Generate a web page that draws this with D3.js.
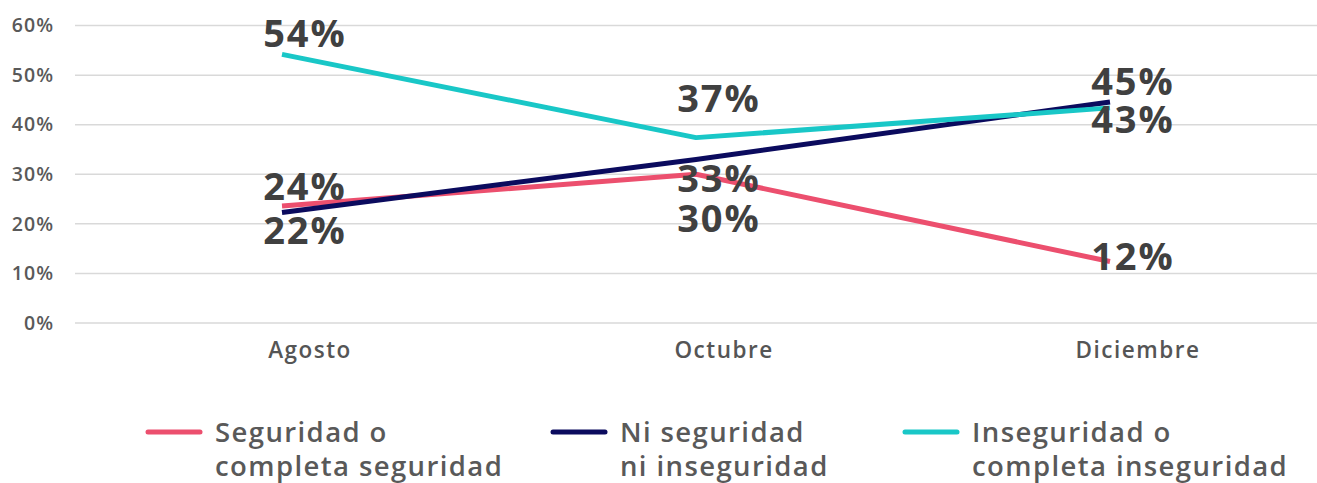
<!DOCTYPE html>
<html>
    <head>
        <script src="https://d3js.org/d3.v7.min.js"></script>
        <style>
            body { margin: 0; background: #fff; }
            text { font-family: 'Open Sans', 'Noto Sans', sans-serif; }
        </style>
    </head>
    <body>
        <svg height='483' width='1317'></svg>

        <script>
            const months = ['Agosto', 'Octubre', 'Diciembre'];
            const yTicks = [0, 10, 20, 30, 40, 50, 60];

            const seguridad = [23.6, 30.0, 12.4];
            const niSeguridad = [22.3, 33.0, 44.6];
            const inseguridad = [54.2, 37.4, 43.4];

            const seriesNames = [
                ['Seguridad o', 'completa seguridad'],
                ['Ni seguridad', 'ni inseguridad'],
                ['Inseguridad o', 'completa inseguridad']
            ];

            const svg = d3.select('svg');
            const width = +svg.attr('width');

            const x = d3.scaleBand()
                .domain(months)
                .range([75, 1317]);

            const y = d3.scaleLinear()
                .domain([0, 60])
                .range([323, 25.6]);

            const colors = ['#ec4f6e', '#0b0b5e', '#19c7c7'];

            // label nudges (dy from point, in px) per series/month
            const labelDy = [
                [-6, 58, 8],
                [32, 33, -7],
                [-7, -26, 25]
            ];

            // grid
            svg.append('g')
                .selectAll('line')
                .data(yTicks)
                .enter().append('line')
                    .attr('x1', 75)
                    .attr('x2', width)
                    .attr('y1', d => y(d))
                    .attr('y2', d => y(d))
                    .attr('stroke', '#d9d9d9')
                    .attr('stroke-width', 1.5);

            const yAxis = d3.axisLeft(y)
                .tickValues(yTicks)
                .tickFormat(d => d + '%')
                .tickSize(0)
                .tickPadding(21);

            const gy = svg.append('g')
                .attr('transform', 'translate(75,0)')
                .call(yAxis);
            gy.select('.domain').remove();
            gy.selectAll('text')
                .attr('font-size', 19.5)
                .attr('font-weight', 600)
                .attr('fill', '#595959')
                .attr('letter-spacing', 1)
                .style('font-family', "'Open Sans', 'Noto Sans', sans-serif");

            const xAxis = d3.axisBottom(x)
                .tickSize(0)
                .tickPadding(19);

            const gx = svg.append('g')
                .attr('transform', 'translate(28,323)')
                .call(xAxis);
            gx.select('.domain').remove();
            gx.selectAll('text')
                .attr('font-size', 22.5)
                .attr('font-weight', 600)
                .attr('fill', '#555')
                .attr('letter-spacing', 1.5)
                .style('font-family', "'Open Sans', 'Noto Sans', sans-serif");

            const cx = m => x(m) + x.bandwidth() / 2;

            const series = [seguridad, niSeguridad, inseguridad];

            const line = d3.line()
                .x((d, i) => cx(months[i]))
                .y(d => y(d));

            svg.append('g')
                .selectAll('path')
                .data(series)
                .enter().append('path')
                    .attr('d', d => line(d))
                    .attr('fill', 'none')
                    .attr('stroke', (d, i) => colors[i])
                    .attr('stroke-width', 5)
                    .attr('stroke-linejoin', 'round');

            // data labels
            const labels = [];
            series.forEach((vals, s) => {
                vals.forEach((v, i) => {
                    labels.push({ s, i, v });
                });
            });

            svg.append('g')
                .selectAll('text')
                .data(labels)
                .enter().append('text')
                    .attr('x', d => cx(months[d.i]) + 23)
                    .attr('y', d => y(d.v) + labelDy[d.s][d.i])
                    .attr('text-anchor', 'middle')
                    .attr('font-size', 38)
                    .attr('font-weight', 700)
                    .attr('fill', '#404040')
                    .attr('letter-spacing', 2)
                    .style('font-family', "'Open Sans', 'Noto Sans', sans-serif")
                    .text(d => Math.round(d.v) + '%');

            // legend
            const legendX = [148, 553, 905];
            const legend = svg.append('g')
                .selectAll('g')
                .data(seriesNames)
                .enter().append('g')
                    .attr('transform', (d, i) => `translate(${legendX[i]},432)`);

            legend.append('line')
                .attr('x1', 0)
                .attr('x2', 52)
                .attr('stroke', (d, i) => colors[i])
                .attr('stroke-width', 5)
                .attr('stroke-linecap', 'round');

            const lt = legend.append('text')
                .attr('x', 67)
                .attr('y', 10)
                .attr('font-size', 27.5)
                .attr('font-weight', 600)
                .attr('fill', '#595959')
                .attr('letter-spacing', 1.4)
                .style('font-family', "'Open Sans', 'Noto Sans', sans-serif");

            lt.selectAll('tspan')
                .data(d => d)
                .enter().append('tspan')
                    .attr('x', 67)
                    .attr('dy', (d, i) => i === 0 ? 0 : 34)
                    .text(d => d);
        </script>
    </body>
</html>
